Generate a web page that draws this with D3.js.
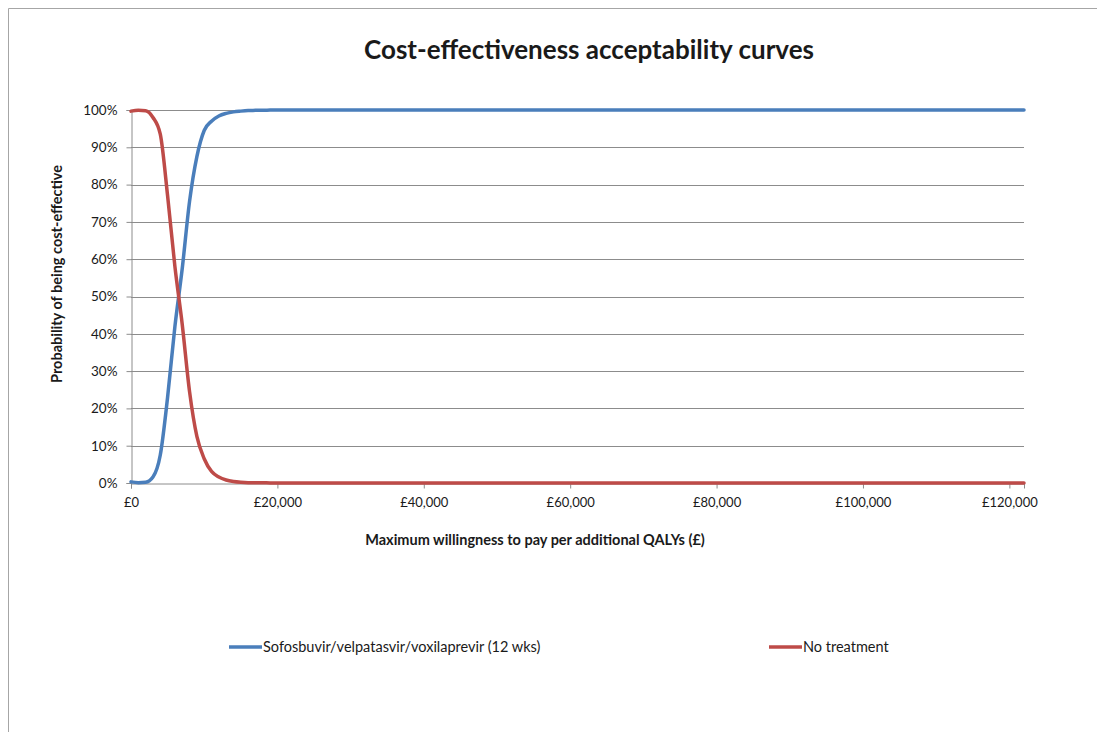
<!DOCTYPE html>
<html>
<head>
<meta charset="utf-8">
<script src="https://cdn.jsdelivr.net/npm/d3@7"></script>
<style>
  html, body { margin: 0; padding: 0; background: #fff; }
  svg { display: block; }
  text { font-family: Lato, "Open Sans", sans-serif; fill: #1a1a1a; }
</style>
</head>
<body>
<svg id="chart" width="1097" height="732"></svg>
<script>
// ---- data ----
const wtp = [0, 1000, 2000, 3000, 4000, 5000, 6000, 7000, 8000, 9000, 10000,
             11000, 12000, 13000, 14000, 15000, 16000, 17000, 18000, 19000, 20000,
             30000, 40000, 50000, 60000, 70000, 80000, 90000, 100000, 110000, 120000, 122000];
const sofosbuvir = [0.3, 0.1, 0.2, 1.6, 7.5, 23.0, 42.0, 57.5, 75.5, 87.5, 94.5,
                    97.0, 98.4, 99.1, 99.5, 99.7, 99.85, 99.9, 99.95, 99.97, 100,
                    100, 100, 100, 100, 100, 100, 100, 100, 100, 100, 100];
const noTreatment = [99.7, 99.9, 99.8, 98.0, 93.5, 77.0, 58.0, 42.5, 24.5, 12.5, 6.5,
                     3.1, 1.6, 0.8, 0.4, 0.2, 0.1, 0.08, 0.05, 0.03, 0,
                     0, 0, 0, 0, 0, 0, 0, 0, 0, 0, 0];
const seriesNames = ["Sofosbuvir/velpatasvir/voxilaprevir (12 wks)", "No treatment"];
const seriesColors = ["#4a7ebb", "#be4b48"];
const xTicks = [0, 20000, 40000, 60000, 80000, 100000, 120000];
const yTicks = [0, 10, 20, 30, 40, 50, 60, 70, 80, 90, 100];
const titleText = "Cost-effectiveness acceptability curves";
const xTitle = "Maximum willingness to pay per additional QALYs (£)";
const yTitle = "Probability of being cost-effective";

// ---- layout ----
const svg = d3.select("#chart");
const plot = { left: 131, right: 1024, top: 110, bottom: 483 };

// outer border (top + left visible)
svg.append("line").attr("x1", 8.5).attr("x2", 1097).attr("y1", 8.5).attr("y2", 8.5)
  .attr("stroke", "#a6a6a6").attr("stroke-width", 1);
svg.append("line").attr("x1", 8.5).attr("x2", 8.5).attr("y1", 8.5).attr("y2", 732)
  .attr("stroke", "#a6a6a6").attr("stroke-width", 1);

const x = d3.scaleLinear().domain([0, 122000]).range([plot.left, plot.right]);
const y = d3.scaleLinear().domain([0, 100]).range([plot.bottom, plot.top]);

// gridlines
svg.append("g")
  .selectAll("line").data(yTicks.filter(d => d > 0)).join("line")
  .attr("x1", plot.left).attr("x2", plot.right)
  .attr("y1", d => Math.round(y(d)) + 0.5).attr("y2", d => Math.round(y(d)) + 0.5)
  .attr("stroke", "#8c8c8c").attr("stroke-width", 1);

// y axis
const yAxis = svg.append("g")
  .attr("transform", `translate(${plot.left + 0.5},0)`)
  .call(d3.axisLeft(y).tickValues(yTicks).tickFormat(d => d + "%").tickSize(5).tickPadding(9));
yAxis.select(".domain").attr("stroke", "#8c8c8c");
yAxis.selectAll(".tick line").attr("stroke", "#8c8c8c");
yAxis.selectAll(".tick text").style("font-size", "13.5px").style("font-family", "Lato, sans-serif").attr("fill", "#1a1a1a");

// x axis
const xAxis = svg.append("g")
  .attr("transform", `translate(0,${Math.round(plot.bottom) + 0.5})`)
  .call(d3.axisBottom(x).tickValues(xTicks).tickFormat(d => "£" + d3.format(",")(d)).tickSize(5).tickPadding(9));
xAxis.select(".domain").attr("stroke", "#8c8c8c");
xAxis.selectAll(".tick line").attr("stroke", "#8c8c8c");
xAxis.selectAll(".tick text").style("font-size", "13px").style("font-family", "Lato, sans-serif").attr("fill", "#1a1a1a");

// lines
const line = d3.line().x((d, i) => x(wtp[i])).y(d => y(d)).curve(d3.curveMonotoneX);
const seriesData = [sofosbuvir, noTreatment];
seriesData.forEach((s, k) => {
  svg.append("path").datum(s)
    .attr("d", line)
    .attr("fill", "none")
    .attr("stroke", seriesColors[k])
    .attr("stroke-width", 3.5)
    .attr("stroke-linejoin", "round")
    .attr("stroke-linecap", "round");
});

// title
svg.append("text").attr("x", 589).attr("y", 59).attr("text-anchor", "middle")
  .style("font-size", "26px").style("font-weight", "bold").text(titleText);

// axis titles
svg.append("text").attr("x", 535).attr("y", 545).attr("text-anchor", "middle")
  .style("font-size", "14.5px").style("font-weight", "bold").text(xTitle);
svg.append("text").attr("transform", "translate(62,274) rotate(-90)").attr("text-anchor", "middle")
  .style("font-size", "14.5px").style("font-weight", "bold").text(yTitle);

// legend
const legendItems = [{ x: 229, name: seriesNames[0], color: seriesColors[0] },
                     { x: 769, name: seriesNames[1], color: seriesColors[1] }];
const lg = svg.append("g");
legendItems.forEach(it => {
  lg.append("line").attr("x1", it.x).attr("x2", it.x + 33).attr("y1", 647).attr("y2", 647)
    .attr("stroke", it.color).attr("stroke-width", 3.5);
  lg.append("text").attr("x", it.x + 34).attr("y", 652)
    .style("font-size", "14.5px").text(it.name);
});
</script>
</body>
</html>
